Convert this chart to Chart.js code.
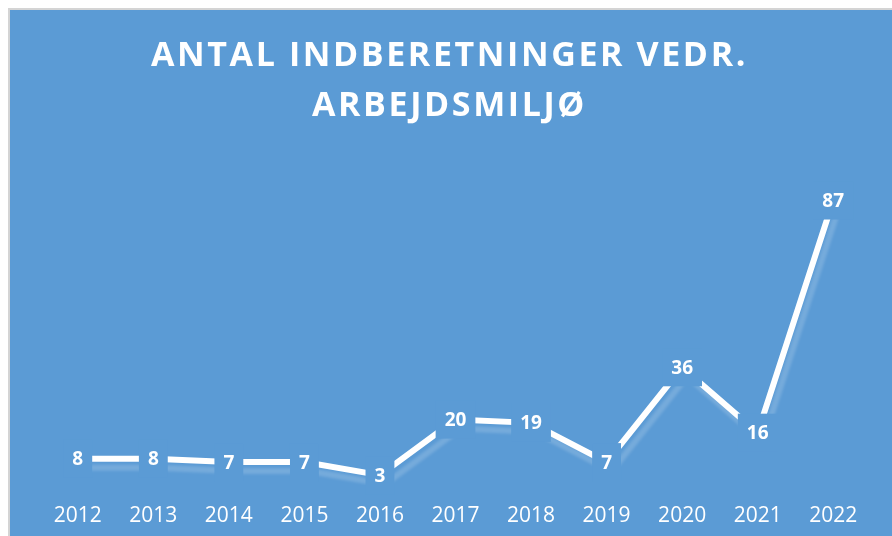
<!DOCTYPE html>
<html>
<head>
<meta charset="utf-8">
<script src="https://cdn.jsdelivr.net/npm/chart.js@4/dist/chart.umd.min.js"></script>
<style>
  html, body { margin: 0; padding: 0; background: #ffffff; overflow: hidden; }
  #wrap { position: absolute; left: 8px; top: 8px; width: 884px; height: 528px;
          border-left: 2px solid #d4d4d4; border-top: 2px solid #d4d4d4; background: #5B9BD5; box-sizing: border-box; }
  canvas { display: block; }
</style>
</head>
<body>
<div id="wrap"><canvas id="c" width="882" height="526"></canvas></div>
<script>
const years = ['2012','2013','2014','2015','2016','2017','2018','2019','2020','2021','2022'];
const reports = [8, 8, 7, 7, 3, 20, 19, 7, 36, 16, 87];
const titleLines = ['ANTAL INDBERETNINGER VEDR.', 'ARBEJDSMILJØ'];

const BG = '#5B9BD5';

const shadowPlugin = {
  id: 'lineShadow',
  beforeDatasetDraw(chart) {
    const ctx = chart.ctx;
    ctx.save();
    ctx.shadowColor = 'rgba(255,255,255,0.17)';
    ctx.shadowBlur = 3;
    ctx.shadowOffsetX = 5;
    ctx.shadowOffsetY = 9;
  },
  afterDatasetDraw(chart) {
    chart.ctx.restore();
  }
};

const labelPlugin = {
  id: 'valueLabels',
  afterDatasetsDraw(chart) {
    const ctx = chart.ctx;
    const meta = chart.getDatasetMeta(0);
    const data = chart.data.datasets[0].data;
    ctx.save();
    ctx.font = 'bold 19px "Open Sans"';
    ctx.textAlign = 'center';
    ctx.textBaseline = 'middle';
    meta.data.forEach((pt, i) => {
      const txt = String(data[i]);
      const w = ctx.measureText(txt).width + 18;
      const h = 38;
      ctx.fillStyle = BG;
      ctx.fillRect(pt.x - w / 2, pt.y - h / 2, w, h);
      ctx.fillStyle = '#ffffff';
      ctx.fillText(txt, pt.x, pt.y + 1);
    });
    ctx.restore();
  }
};

const titlePlugin = {
  id: 'spacedTitle',
  afterDraw(chart) {
    const ctx = chart.ctx;
    ctx.save();
    ctx.font = 'bold 34px "Open Sans"';
    ctx.fillStyle = '#ffffff';
    ctx.textAlign = 'center';
    ctx.textBaseline = 'alphabetic';
    ctx.letterSpacing = '2.6px';
    const cx = 439.5;
    ctx.fillText(titleLines[0], cx, 56);
    ctx.fillText(titleLines[1], cx, 106);
    ctx.restore();
  }
};

new Chart(document.getElementById('c'), {
  type: 'line',
  data: {
    labels: years,
    datasets: [{
      data: reports,
      borderColor: '#ffffff',
      borderWidth: 6,
      borderCapStyle: 'butt',
      pointRadius: 0,
      tension: 0,
      fill: false
    }]
  },
  options: {
    responsive: false,
    animation: false,
    layout: { padding: { top: 148, left: 30, right: 21, bottom: 10 } },
    plugins: { legend: { display: false }, tooltip: { enabled: false }, title: { display: false } },
    scales: {
      x: {
        offset: true,
        grid: { display: false, drawTicks: false },
        border: { display: false },
        ticks: { color: '#ffffff', font: { family: 'Open Sans', size: 21 }, padding: 18, maxRotation: 0 },
        afterFit(scale) { scale.height = 41; }
      },
      y: {
        display: false,
        min: 0,
        max: 100
      }
    }
  },
  plugins: [shadowPlugin, labelPlugin, titlePlugin]
});
</script>
</body>
</html>
